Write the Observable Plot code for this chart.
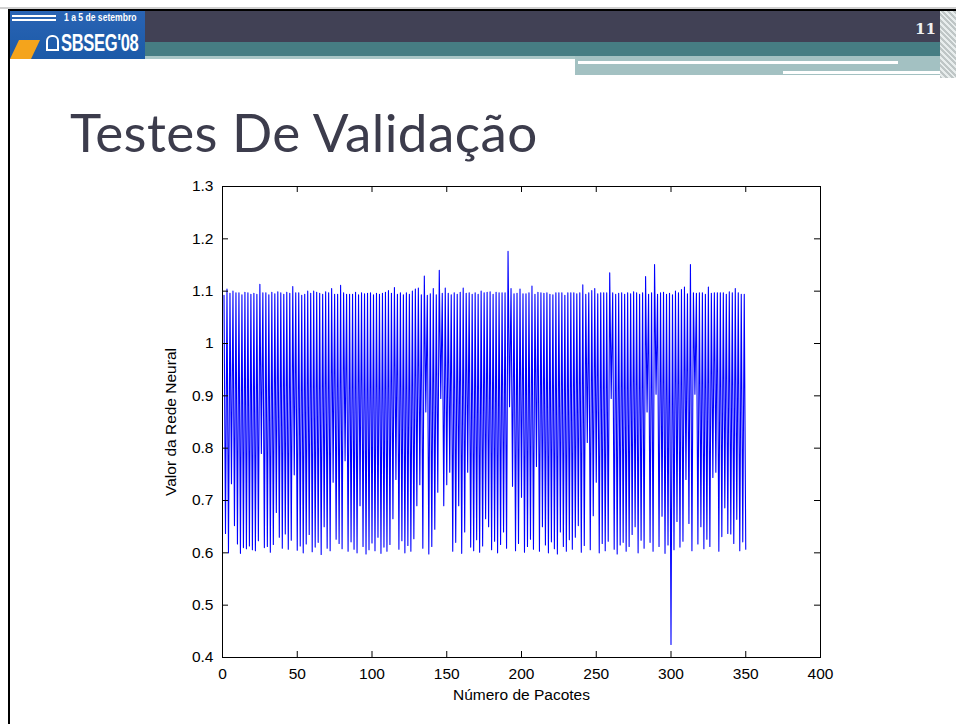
<!DOCTYPE html>
<html><head><meta charset="utf-8">
<script src="https://cdn.jsdelivr.net/npm/d3@7"></script>
<script src="https://cdn.jsdelivr.net/npm/@observablehq/plot@0.6"></script>
<style>
body{margin:0;background:#fff;width:956px;height:724px;overflow:hidden;position:relative;font-family:"Liberation Sans",Arial,sans-serif}
.abs{position:absolute}
#topline{left:0;top:7px;width:956px;height:2px;background:#d0d0d0}
#border{left:8px;top:9px;width:948px;height:715px;border-left:2px solid #000;border-top:2px solid #000;box-sizing:border-box}
#dark{left:10px;top:11px;width:930px;height:31px;background:#414155}
#teal{left:145px;top:42px;width:795px;height:14px;background:#467d83}
#lstrip{left:145px;top:56px;width:430px;height:3px;background:#a9c6c6}
#rblock{left:575px;top:56px;width:370px;height:19px;background:#a3c1c2}
#w1{left:578px;top:61px;width:320px;height:3px;background:#fff}
#w2{left:783px;top:71px;width:162px;height:3px;background:#fff}
#hatch{left:940px;top:10px;width:16px;height:68px;background:repeating-linear-gradient(45deg,#bfc6c6 0 2px,#e8eded 2px 4px)}
#pnum{left:915px;top:20px;font-family:"DejaVu Serif",serif;font-size:15px;color:#f0f0f0;font-weight:bold}
#logo{left:8px;top:10px;width:137px;height:49px;background:linear-gradient(#2a64b4,#1b5aa8);overflow:hidden}
#arrow{left:4px;top:5px;width:44px;height:2px;background:#fff;box-shadow:0 4px 0 #fff}
#date{left:56px;top:1px;color:#fff;font-family:"Liberation Sans",sans-serif;font-weight:bold;font-size:11px;white-space:nowrap;transform:scaleX(0.78);transform-origin:0 0}
#orange{left:2px;top:30px;width:30px;height:19px;background:#f4a41c;clip-path:polygon(30% 0,100% 0,70% 100%,0 100%)}
#lock{left:38px;top:25px;width:13px;height:16px;border:2px solid #fff;border-radius:6px 6px 0 0;box-sizing:border-box}
#sb{left:53px;top:20px;color:#fff;font-family:"Liberation Sans",sans-serif;font-weight:bold;font-size:23px;white-space:nowrap;transform:scaleX(0.72);transform-origin:0 0;letter-spacing:-0.5px}
#title{left:70px;top:102px;font-family:Lato,"Open Sans",sans-serif;font-size:53px;line-height:60px;color:#3c3c4c;white-space:nowrap;letter-spacing:0.4px}
#chart{left:0;top:0}
</style></head><body>
<div class="abs" id="topline"></div>
<div class="abs" id="dark"></div>
<div class="abs" id="teal"></div>
<div class="abs" id="lstrip"></div>
<div class="abs" id="rblock"></div>
<div class="abs" id="w1"></div>
<div class="abs" id="w2"></div>
<div class="abs" id="hatch"></div>
<div class="abs" id="pnum">11</div>
<div class="abs" id="logo">
  <div class="abs" id="arrow"></div>
  <div class="abs" id="date">1 a 5 de setembro</div>
  <div class="abs" id="orange"></div>
  <div class="abs" id="lock"></div>
  <div class="abs" id="sb">SBSEG'08</div>
</div>
<div class="abs" id="border"></div>
<div class="abs" id="title">Testes De Validação</div>
<div class="abs" id="chart"></div>
<script>
// Peak (odd-indexed) values of the neural network output, one per pair
const highs = [
 1.092,1.104,1.096,1.100,1.097,1.097,1.093,1.098,1.097,1.094,
 1.096,1.094,1.113,1.097,1.097,1.093,1.098,1.095,1.099,1.097,
 1.094,1.098,1.096,1.109,1.097,1.097,1.092,1.094,1.100,1.096,
 1.100,1.098,1.096,1.094,1.099,1.097,1.105,1.094,1.094,1.111,
 1.097,1.094,1.094,1.094,1.098,1.093,1.097,1.095,1.096,1.097,
 1.093,1.096,1.094,1.096,1.098,1.101,1.096,1.107,1.094,1.097,
 1.093,1.097,1.094,1.100,1.104,1.106,1.093,1.129,1.092,1.095,
 1.105,1.093,1.140,1.096,1.106,1.096,1.093,1.097,1.094,1.098,
 1.106,1.096,1.097,1.094,1.097,1.094,1.100,1.097,1.098,1.099,
 1.094,1.098,1.097,1.097,1.097,1.176,1.105,1.095,1.096,1.104,
 1.095,1.095,1.097,1.110,1.094,1.098,1.097,1.096,1.097,1.094,
 1.093,1.097,1.097,1.097,1.092,1.097,1.097,1.097,1.095,1.097,
 1.112,1.094,1.097,1.101,1.105,1.095,1.097,1.097,1.097,1.135,
 1.097,1.094,1.096,1.097,1.094,1.097,1.095,1.099,1.097,1.094,
 1.097,1.128,1.094,1.097,1.151,1.094,1.097,1.098,1.094,1.096,
 1.093,1.100,1.097,1.103,1.108,1.095,1.151,1.097,1.096,1.097,
 1.097,1.094,1.108,1.096,1.097,1.097,1.097,1.097,1.094,1.099,
 1.097,1.105,1.097,1.094,1.094
];
// Trough (even-indexed) values, one per pair
const lows = [
 0.637,0.600,0.732,0.652,0.617,0.599,0.610,0.608,0.613,0.606,
 0.604,0.623,0.790,0.610,0.612,0.601,0.616,0.677,0.630,0.609,
 0.636,0.607,0.624,0.749,0.605,0.613,0.600,0.617,0.635,0.602,
 0.611,0.620,0.597,0.650,0.609,0.604,0.735,0.626,0.618,0.608,
 0.776,0.603,0.621,0.607,0.600,0.690,0.612,0.598,0.606,0.619,
 0.604,0.630,0.599,0.611,0.603,0.616,0.665,0.740,0.607,0.623,
 0.600,0.614,0.603,0.627,0.690,0.730,0.609,0.869,0.598,0.612,
 0.645,0.716,0.895,0.690,0.730,0.754,0.603,0.620,0.690,0.599,
 0.640,0.754,0.611,0.604,0.625,0.601,0.613,0.665,0.650,0.606,
 0.622,0.600,0.616,0.640,0.609,0.879,0.727,0.604,0.618,0.706,
 0.601,0.612,0.626,0.607,0.765,0.603,0.650,0.615,0.600,0.621,
 0.608,0.598,0.640,0.612,0.603,0.625,0.607,0.630,0.652,0.601,
 0.614,0.811,0.606,0.671,0.735,0.600,0.618,0.604,0.622,0.895,
 0.607,0.598,0.615,0.620,0.603,0.612,0.635,0.650,0.600,0.624,
 0.609,0.869,0.620,0.603,0.903,0.612,0.670,0.599,0.615,0.425,
 0.606,0.660,0.611,0.622,0.740,0.656,0.604,0.903,0.617,0.650,
 0.608,0.626,0.612,0.744,0.754,0.603,0.631,0.686,0.637,0.636,
 0.618,0.664,0.604,0.621,0.607
];
const xTicks = [0,50,100,150,200,250,300,350,400];
const yTicks = [0.4,0.5,0.6,0.7,0.8,0.9,1,1.1,1.2,1.3];
const xLabel = "Número de Pacotes";
const yLabel = "Valor da Rede Neural";

const series = [];
highs.forEach((h,k)=>{ series.push({x:2*k+1,y:h}); series.push({x:2*k+2,y:lows[k]}); });

const W=956,H=724,ML=222,MR=136,MT=186,MB=67;
const fw=W-ML-MR, fh=H-MT-MB, tl=6;
const chart = Plot.plot({
  width:W, height:H, marginLeft:ML, marginRight:MR, marginTop:MT, marginBottom:MB,
  style:{background:"transparent", fontFamily:"'Liberation Sans', Arial, sans-serif", fontSize:"15.5px", color:"#000"},
  x:{domain:[0,400]}, y:{domain:[0.4,1.3]},
  marks:[
    Plot.line(series,{x:"x",y:"y",stroke:"#0000ff",strokeWidth:1.1}),
    Plot.frame({stroke:"#000",strokeWidth:1}),
    Plot.tickX(xTicks,{x:d=>d,insetTop:fh-tl,stroke:"#000"}),
    Plot.tickX(xTicks,{x:d=>d,insetBottom:fh-tl,stroke:"#000"}),
    Plot.tickY(yTicks,{y:d=>d,insetRight:fw-tl,stroke:"#000"}),
    Plot.tickY(yTicks,{y:d=>d,insetLeft:fw-tl,stroke:"#000"}),
    Plot.axisX(xTicks,{tickSize:0,tickPadding:10,tickFormat:d=>String(d),label:xLabel,labelAnchor:"center",labelOffset:42,labelArrow:"none"}),
    Plot.axisY(yTicks,{tickSize:0,tickPadding:9,tickFormat:d=>String(d),label:yLabel,labelAnchor:"center",labelOffset:58,labelArrow:"none"})
  ]
});
document.getElementById("chart").appendChild(chart);
</script>
</body></html>
